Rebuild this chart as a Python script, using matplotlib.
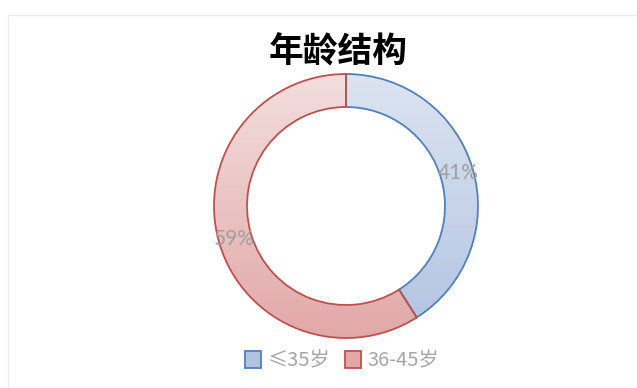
import matplotlib
matplotlib.use('Agg')
import matplotlib.pyplot as plt
import numpy as np
from matplotlib.colors import LinearSegmentedColormap
from matplotlib.patches import Rectangle

labels = ['≤35岁', '36-45岁']
shares = [41, 59]
edge_colors = ['#4f81bd', '#c0504d']
grad_colors = [('#dce4f1', '#b2c3e1'), ('#f3dede', '#e2a8a8')]

fig = plt.figure(figsize=(6.37, 3.88), dpi=100)
ax = fig.add_axes([0, 0, 1, 1])

# faint chart-area frame
fig.patches.append(Rectangle((8 / 637, -0.1), 1.0, 1 - 15 / 388 + 0.1,
                             transform=fig.transFigure, fill=False,
                             edgecolor='#ededed', lw=1))

cx, cy, r = 346, 182, 132
wedges, texts, autotexts = ax.pie(
    shares, startangle=90, counterclock=False, center=(cx, cy), radius=r,
    autopct='%.0f%%', pctdistance=0.885, frame=True,
    wedgeprops=dict(width=r * 0.25, linewidth=1.3),
    textprops=dict(color='#a0a0a0', fontsize=15, family=['Lato', 'DejaVu Sans']))
ax.set_xlim(0, 637)
ax.set_ylim(0, 388)
ax.axis('off')

# vertical gradient fill clipped to each ring segment (light at top)
grad = np.linspace(0, 1, 256).reshape(-1, 1)
for w, ec, (c_top, c_bot) in zip(wedges, edge_colors, grad_colors):
    w.set_edgecolor(ec)
    w.set_facecolor('none')
    w.set_zorder(3)
    cmap = LinearSegmentedColormap.from_list('g', [c_bot, c_top])
    im = ax.imshow(grad, cmap=cmap, aspect='auto', origin='lower',
                   extent=(cx - r, cx + r, cy - r, cy + r), zorder=2)
    im.set_clip_path(w)
for t in autotexts:
    t.set_zorder(4)

fig.text(338 / 637, 1 - 52 / 388, '年龄结构', ha='center', va='center',
         fontsize=25, fontweight='bold', family=['Noto Sans CJK SC'])

handles = [plt.Rectangle((0, 0), 1, 1, facecolor=c[1], edgecolor=e, lw=1.3)
           for c, e in zip(grad_colors, edge_colors)]
leg = fig.legend(handles, labels, loc='center', bbox_to_anchor=(342 / 637, 1 - 361 / 388),
                 ncol=2, frameon=False, handlelength=0.8, handleheight=0.9,
                 handletextpad=0.35, columnspacing=0.7,
                 prop=dict(family=['Noto Sans CJK SC'], size=14.5))
for t in leg.get_texts():
    t.set_color('#a6a6a6')

fig.savefig('out.png', dpi=100, facecolor='white')
